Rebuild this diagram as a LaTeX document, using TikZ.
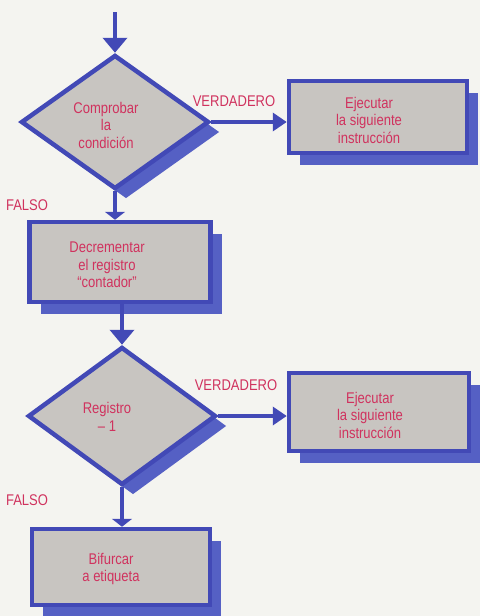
\documentclass[tikz,border=0pt]{standalone}
\usepackage{fontspec}
\setmainfont[FakeStretch=0.84]{Liberation Sans}
\usetikzlibrary{shapes.geometric,arrows.meta,shadows}
\definecolor{bl}{HTML}{4249B6}
\definecolor{sh}{HTML}{5560C4}
\definecolor{gr}{HTML}{C8C5C1}
\definecolor{tx}{HTML}{D0325E}
\definecolor{bg}{HTML}{F4F4F0}
\begin{document}
\begin{tikzpicture}[x=1pt,y=-1pt,
  shade box/.style={drop shadow={fill=sh,opacity=1,shadow xshift=11pt,shadow yshift=-12pt}},
  boxnode/.style={draw=bl,line width=4.5pt,fill=gr,shade box,inner sep=0pt},
  decnode/.style={diamond,draw=bl,line width=4.5pt,fill=gr,inner sep=0pt,
    drop shadow={fill=sh,opacity=1,shadow xshift=11pt,shadow yshift=-10pt}},
  txt/.style={text=tx,align=center,font=\fontsize{15.5}{17.5}\selectfont},
  lbl/.style={text=tx,font=\fontsize{15.5}{16}\selectfont},
  conn/.style={draw=bl,line width=4.5pt},
  tipA/.style={-{Triangle[width=24pt,length=15pt]}},
  tipB/.style={-{Triangle[width=20pt,length=8pt]}},
  tipC/.style={-{Triangle[width=18pt,length=14pt]}}
]
\fill[bg] (0,0) rectangle (480,616);
\useasboundingbox (0,0) rectangle (480,616);

% shapes
\node[decnode,minimum width=188pt,minimum height=134pt] (d1) at (115,122) {};
\node[boxnode,minimum width=178pt,minimum height=72pt] (b1) at (378,117) {};
\node[boxnode,minimum width=181pt,minimum height=80pt] (b2) at (120,262) {};
\node[decnode,minimum width=188pt,minimum height=138pt] (d2) at (122,416) {};
\node[boxnode,minimum width=180pt,minimum height=78pt] (b3) at (379,412) {};
\node[boxnode,minimum width=178pt,minimum height=76pt] (b4) at (121,567) {};

% texts
\node[txt] (t1) at ([xshift=-9pt,yshift=-3pt]d1.center) {Comprobar\\la\\condición};
\node[txt] (t2) at ([xshift=-9pt,yshift=-3pt]b1.center) {Ejecutar\\la siguiente\\instrucción};
\node[txt] (t3) at ([xshift=-13pt,yshift=-3pt]b2.center) {Decrementar\\el registro\\“contador”};
\node[txt] (t4) at ([xshift=-15pt,yshift=-1pt]d2.center) {Registro\\– 1};
\node[txt] (t5) at ([xshift=-9pt,yshift=-3pt]b3.center) {Ejecutar\\la siguiente\\instrucción};
\node[txt] (t6) at ([xshift=-10pt,yshift=-2pt]b4.center) {Bifurcar\\a etiqueta};

% labels
\node[lbl] (v1) at (234,101) {VERDADERO};
\node[lbl] (v2) at (236,385) {VERDADERO};
\node[lbl] (f1) at (27,205) {FALSO};
\node[lbl] (f2) at (27,500) {FALSO};

% connectors
\coordinate (start) at (d1.north |- 0,12);
\draw[conn,tipA] (start) -- (d1.north);
\draw[conn,tipC] (d1.east) -- (d1.east -| b1.west);
\draw[conn,tipB] (d1.south) -- (d1.south |- b2.north);
\draw[conn,tipA] (b2.south -| d2.north) -- (d2.north);
\draw[conn,tipC] (d2.east) -- (d2.east -| b3.west);
\draw[conn,tipB] (d2.south) -- (d2.south |- b4.north);
\end{tikzpicture}
\end{document}
